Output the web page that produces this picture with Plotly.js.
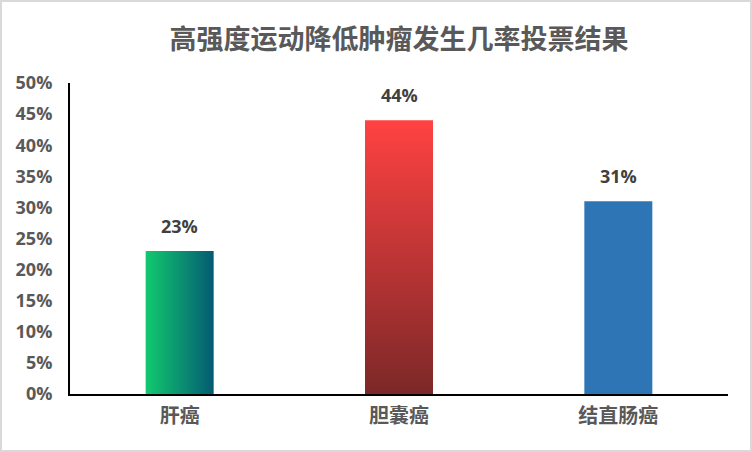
<!DOCTYPE html>
<html>
<head>
<meta charset="utf-8">
<script src="https://cdn.plot.ly/plotly-3.0.1.min.js"></script>
<style>
  body { margin: 0; background: #fff; }
  #graphique { width: 748px; height: 448px; border: 2px solid #d9d9d9; }
</style>
</head>
<body>
<div id="graphique"></div>
<script>
// les données
var categories = ['肝癌', '胆囊癌', '结直肠癌'];
var valeurs = [0.23, 0.44, 0.31];

// couleurs des barres (dégradé : début -> fin)
var degrades = [
    { id: 'grad0', x2: '100%', y2: '0%', debut: '#12c96f', fin: '#045b72' },  // horizontal
    { id: 'grad1', x2: '0%', y2: '100%', debut: '#ff4242', fin: '#7c2828' },  // vertical
    { id: 'grad2', x2: '0%', y2: '100%', debut: '#2e75b6', fin: '#2e75b6' }
];

var police = '"Open Sans", "Noto Sans CJK SC", sans-serif';

var trace = {
    x: categories,
    y: valeurs,
    type: 'bar',
    marker: { color: ['#12c96f', '#ff4242', '#2e75b6'] },
    hoverinfo: 'none'
};

// étiquettes au-dessus des barres
var etiquettes = valeurs.map(function(v, i) {
    return {
        x: categories[i],
        y: v,
        text: Math.round(v * 100) + '%',
        showarrow: false,
        yanchor: 'bottom',
        yshift: 11,
        font: { family: police, size: 18, color: '#404040', weight: 'bold' }
    };
});

var layout = {
    title: {
        text: '高强度运动降低肿瘤发生几率投票结果',
        font: { family: police, size: 27, color: '#595959', weight: 'bold' },
        xref: 'paper', x: 0.5,
        yref: 'container', y: 1 - 38 / 448, yanchor: 'middle'
    },
    width: 748,
    height: 448,
    margin: { t: 81, b: 56, l: 68, r: 22 },
    bargap: 0.69,
    showlegend: false,
    xaxis: {
        showline: true, linecolor: '#000', linewidth: 2,
        tickfont: { family: police, size: 20, color: '#595959', weight: 'bold' },
        ticks: '', ticklabelstandoff: 3
    },
    yaxis: {
        range: [0, 0.5], dtick: 0.05, tickformat: '.0%',
        showline: true, linecolor: '#000', linewidth: 2,
        showgrid: false, zeroline: false,
        tickfont: { family: police, size: 18, color: '#595959', weight: 'bold' },
        ticks: '', ticklabelstandoff: 12
    },
    annotations: etiquettes,
    plot_bgcolor: '#fff',
    paper_bgcolor: '#fff'
};

Plotly.newPlot('graphique', [trace], layout, { staticPlot: true }).then(function(gd) {
    // Plotly ne fait pas de dégradé sur les barres, on l'ajoute dans le SVG
    var svg = gd.querySelector('svg.main-svg');
    var ns = 'http://www.w3.org/2000/svg';
    var defs = svg.querySelector('defs') || svg.insertBefore(document.createElementNS(ns, 'defs'), svg.firstChild);
    degrades.forEach(function(d) {
        var g = document.createElementNS(ns, 'linearGradient');
        g.setAttribute('id', d.id);
        g.setAttribute('x1', '0%'); g.setAttribute('y1', '0%');
        g.setAttribute('x2', d.x2); g.setAttribute('y2', d.y2);
        [[0, d.debut], [1, d.fin]].forEach(function(s) {
            var stop = document.createElementNS(ns, 'stop');
            stop.setAttribute('offset', s[0]);
            stop.setAttribute('stop-color', s[1]);
            g.appendChild(stop);
        });
        defs.appendChild(g);
    });
    var barres = gd.querySelectorAll('.bars .point path');
    barres.forEach(function(p, i) {
        p.style.fill = 'url(#' + degrades[i].id + ')';
    });
});
</script>
</body>
</html>
